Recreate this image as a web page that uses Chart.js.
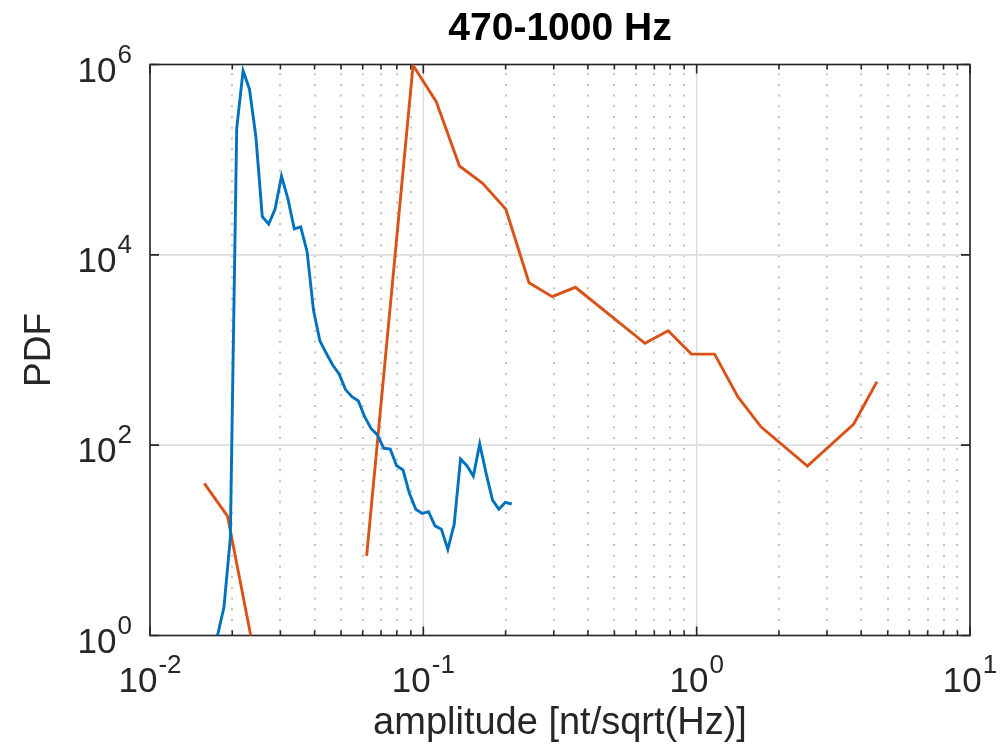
<!DOCTYPE html>
<html><head><meta charset="utf-8">
<script src="https://cdn.jsdelivr.net/npm/chart.js@4/dist/chart.umd.min.js"></script>
<style>html,body{margin:0;padding:0;background:#fff}</style>
</head><body>
<canvas id="c" width="1008" height="748" style="width:1008px;height:748px;display:block"></canvas>
<script>
// ---- data ----
const blueX = [0.01766, 0.01864, 0.01967, 0.02076, 0.02191, 0.02312, 0.02440, 0.02575, 0.02718, 0.02869,
  0.03027, 0.03195, 0.03372, 0.03559, 0.03756, 0.03963, 0.04183, 0.04415, 0.04659, 0.04917,
  0.05188, 0.05476, 0.05779, 0.06099, 0.06436, 0.06792, 0.07168, 0.07565, 0.07984, 0.08426,
  0.08892, 0.09384, 0.09904, 0.1045, 0.1103, 0.1164, 0.1229, 0.1297, 0.1368, 0.1444,
  0.1524, 0.1608, 0.1697, 0.1791, 0.1890, 0.1995, 0.2106];
const blueY = [1.0, 1.98, 10.5, 2.13e5, 8.6e5, 5.5e5, 1.74e5, 2.52e4, 2.11e4, 3.03e4,
  6.7e4, 3.9e4, 1.87e4, 1.97e4, 1.08e4, 2630, 1250, 923, 695, 560,
  386, 323, 293, 199, 150, 128, 92.7, 91.2, 60.8, 54.8,
  31.2, 21.2, 19.2, 20.0, 14.2, 13.1, 8.05, 14.8, 71.6, 60.8,
  47.4, 103, 50.6, 26.5, 21.2, 25.1, 24.1];
const orangeX = [0.01580, 0.01921, 0.02336, 0.0406, 0.06203, 0.09170, 0.1115, 0.1356, 0.1648, 0.2004,
  0.2436, 0.2962, 0.3600, 0.6469, 0.7864, 0.9563, 1.163, 1.414, 1.719, 2.542, 3.754, 4.564];
const orangeY = [39.7, 18.0, 1.0, null, 6.85, 9.8e5, 4.06e5, 8.58e4, 5.65e4, 3.01e4,
  5090, 3630, 4560, 1175, 1595, 908, 905, 323, 156, 60.4, 167, 464];

const xMajorTicks = [0.01, 0.1, 1, 10];
const xTickExponents = ['-2', '-1', '0', '1'];
const xMinorMultipliers = [2, 3, 4, 5, 6, 7, 8, 9];
const yMajorTicks = [1, 100, 10000, 1000000];
const yTickExponents = ['0', '2', '4', '6'];

const titleText = '470-1000 Hz';
const xLabelText = 'amplitude [nt/sqrt(Hz)]';
const yLabelText = 'PDF';

const FAMILY = '"Liberation Sans", Arial, Helvetica, sans-serif';
const AXIS_COLOR = '#262626';

const toPoints = (xs, ys) => xs.map((x, i) => ({x: x, y: ys[i]}));

const xMinor = [];
for (let i = 0; i < xMajorTicks.length - 1; i++) {
  for (const m of xMinorMultipliers) xMinor.push(m * xMajorTicks[i]);
}

function drawPow(ctx, anchorX, baseY, exp, align) {
  const baseFont = '35px ' + FAMILY;
  const expFont = '26px ' + FAMILY;
  ctx.font = baseFont;
  const wb = ctx.measureText('10').width;
  ctx.font = expFont;
  const we = ctx.measureText(exp).width;
  const total = wb + 1 + we;
  const left = align === 'center' ? anchorX - total / 2 : anchorX - total;
  ctx.textAlign = 'left';
  ctx.textBaseline = 'alphabetic';
  ctx.fillStyle = AXIS_COLOR;
  ctx.font = baseFont;
  ctx.fillText('10', left, baseY);
  ctx.font = expFont;
  ctx.fillText(exp, left + wb + 1, baseY - 19);
}

const matlabAxes = {
  id: 'matlabAxes',
  beforeDatasetsDraw(chart) {
    const {ctx, chartArea: a, scales: {x, y}} = chart;
    ctx.save();
    // minor dotted x grid
    ctx.strokeStyle = '#bdbdbd';
    ctx.lineWidth = 1.8;
    ctx.setLineDash([2, 8.7]);
    ctx.lineDashOffset = -8.7;
    for (const v of xMinor) {
      const px = Math.round(x.getPixelForValue(v));
      ctx.beginPath(); ctx.moveTo(px, a.top); ctx.lineTo(px, a.bottom); ctx.stroke();
    }
    ctx.setLineDash([]);
    // major solid grid
    ctx.strokeStyle = '#dddddd';
    ctx.lineWidth = 1.6;
    for (const v of xMajorTicks) {
      const px = x.getPixelForValue(v);
      ctx.beginPath(); ctx.moveTo(px, a.top); ctx.lineTo(px, a.bottom); ctx.stroke();
    }
    for (const v of yMajorTicks) {
      const py = y.getPixelForValue(v);
      ctx.beginPath(); ctx.moveTo(a.left, py); ctx.lineTo(a.right, py); ctx.stroke();
    }
    // box
    ctx.strokeStyle = AXIS_COLOR;
    ctx.lineWidth = 1.6;
    ctx.strokeRect(a.left, a.top, a.right - a.left, a.bottom - a.top);
    // ticks (inward)
    ctx.lineWidth = 1.6;
    ctx.beginPath();
    for (const v of xMajorTicks) {
      const px = x.getPixelForValue(v);
      ctx.moveTo(px, a.bottom); ctx.lineTo(px, a.bottom - 9);
      ctx.moveTo(px, a.top); ctx.lineTo(px, a.top + 9);
    }
    for (const v of xMinor) {
      const px = x.getPixelForValue(v);
      ctx.moveTo(px, a.bottom); ctx.lineTo(px, a.bottom - 5);
      ctx.moveTo(px, a.top); ctx.lineTo(px, a.top + 5);
    }
    for (const v of yMajorTicks) {
      const py = y.getPixelForValue(v);
      ctx.moveTo(a.left, py); ctx.lineTo(a.left + 9, py);
      ctx.moveTo(a.right, py); ctx.lineTo(a.right - 9, py);
    }
    ctx.stroke();
    ctx.restore();
  },
  afterDraw(chart) {
    const {ctx, chartArea: a, scales: {x, y}} = chart;
    ctx.save();
    xMajorTicks.forEach((v, i) => {
      drawPow(ctx, x.getPixelForValue(v), a.bottom + 56.5, xTickExponents[i], 'center');
    });
    yMajorTicks.forEach((v, i) => {
      drawPow(ctx, a.left - 18, y.getPixelForValue(v) + 17, yTickExponents[i], 'right');
    });
    ctx.restore();
  }
};

new Chart(document.getElementById('c'), {
  type: 'line',
  data: {
    datasets: [
      {label: 'blue', data: toPoints(blueX, blueY), borderColor: '#0072BD', borderWidth: 2.9,
       pointRadius: 0, tension: 0, fill: false, spanGaps: false},
      {label: 'orange', data: toPoints(orangeX, orangeY), borderColor: '#D95319', borderWidth: 2.9,
       pointRadius: 0, tension: 0, fill: false, spanGaps: false}
    ]
  },
  options: {
    responsive: false,
    animation: false,
    devicePixelRatio: 1,
    layout: {padding: {left: 0, right: 38, top: 0, bottom: 0}},
    plugins: {
      legend: {display: false},
      tooltip: {enabled: false},
      title: {
        display: true, text: titleText, color: '#000', fullSize: false,
        font: {family: FAMILY, size: 39, weight: 'bold', lineHeight: 1.2},
        padding: {top: 6.1, bottom: 11.6}
      }
    },
    scales: {
      x: {
        type: 'logarithmic', min: 0.01, max: 10,
        grid: {display: false, drawTicks: false},
        border: {display: false},
        ticks: {display: false},
        title: {display: true, text: xLabelText, color: AXIS_COLOR,
          font: {family: FAMILY, size: 38, lineHeight: 1.2},
          padding: {top: 65.2, bottom: 1.7}}
      },
      y: {
        type: 'logarithmic', min: 1, max: 1e6,
        grid: {display: false, drawTicks: false},
        border: {display: false},
        ticks: {display: false},
        title: {display: true, text: yLabelText, color: AXIS_COLOR,
          font: {family: FAMILY, size: 37, lineHeight: 1.2},
          padding: {top: 17.8, bottom: 87.8}}
      }
    }
  },
  plugins: [matlabAxes]
});
</script>
</body></html>
